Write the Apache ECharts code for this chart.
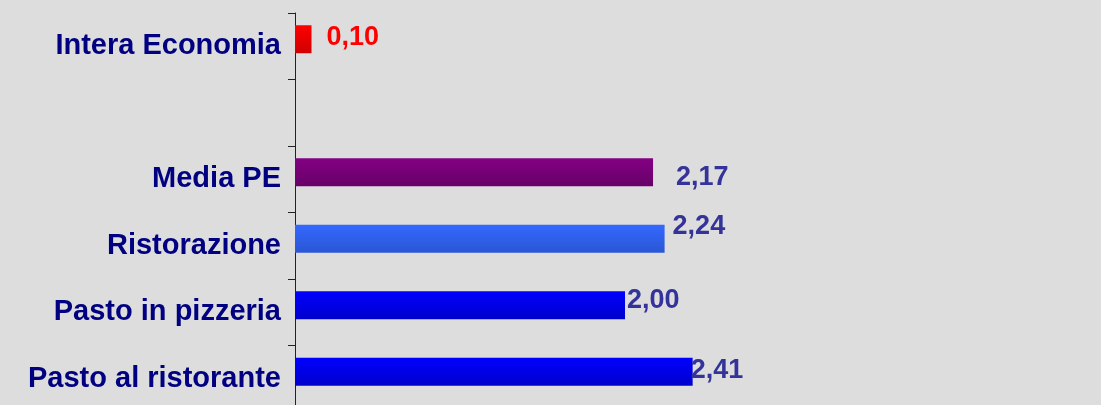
<!DOCTYPE html>
<html>
<head>
<meta charset="utf-8">
<script src="https://cdn.jsdelivr.net/npm/echarts@6/dist/echarts.min.js"></script>
<style>
  html, body { margin: 0; padding: 0; background: #dddddd; }
  #main { width: 1101px; height: 405px; }
</style>
</head>
<body>
<div id="main"></div>
<script>
// categories from top to bottom (the empty one is the gap row)
var categories = ['Intera Economia', '', 'Media PE', 'Ristorazione', 'Pasto in pizzeria', 'Pasto al ristorante'];
var values = [0.10, null, 2.17, 2.24, 2.00, 2.41];

// bar colours (top, bottom of the gradient) and label tweaks
var barColors = [
    ['#ff0000', '#d00000'],
    ['#000000', '#000000'],
    ['#840084', '#680068'],
    ['#3468ff', '#2a56d4'],
    ['#0000ff', '#0000cc'],
    ['#0000ff', '#0000cc']
];
var labelColors = ['#ff0000', '#333399', '#333399', '#333399', '#333399', '#333399'];
var labelOffsets = [[15, -2], [0, 0], [23, 5], [8, -12], [2, -5], [-2, -1]];

function fmt(v) {
    return v.toFixed(2).replace('.', ',');
}

var chart = echarts.init(document.getElementById('main'), null, { renderer: 'canvas' });

var barData = values.map(function (v, i) {
    return {
        value: v,
        itemStyle: {
            color: new echarts.graphic.LinearGradient(0, 0, 0, 1, [
                { offset: 0, color: barColors[i][0] },
                { offset: 1, color: barColors[i][1] }
            ])
        },
        label: {
            color: labelColors[i],
            offset: labelOffsets[i]
        }
    };
});

var option = {
    backgroundColor: '#dddddd',
    animation: false,
    grid: {
        left: 295,
        top: 13,
        width: 660,
        height: 399,
        outerBoundsMode: 'none'
    },
    xAxis: {
        type: 'value',
        min: 0,
        max: 4,
        show: false
    },
    yAxis: {
        type: 'category',
        inverse: true,
        data: categories,
        axisLine: { lineStyle: { color: '#222222', width: 1 } },
        axisTick: { show: true, inside: false, length: 7, lineStyle: { color: '#222222' } },
        axisLabel: {
            margin: 14,
            color: '#000080',
            fontFamily: 'Liberation Sans, Arial, sans-serif',
            fontWeight: 'bold',
            fontSize: 29
        }
    },
    series: [{
        name: 'valori',
        type: 'bar',
        barWidth: 28,
        barGap: '0%',
        data: barData,
        label: {
            show: true,
            position: 'right',
            distance: 0,
            fontFamily: 'Liberation Sans, Arial, sans-serif',
            fontWeight: 'bold',
            fontSize: 27,
            formatter: function (p) { return fmt(p.value); }
        }
    }, {
        name: 'pad',
        type: 'bar',
        barWidth: 14,
        barGap: '0%',
        silent: true,
        itemStyle: { color: 'transparent' },
        data: values.map(function () { return null; })
    }]
};

chart.setOption(option);
</script>
</body>
</html>
